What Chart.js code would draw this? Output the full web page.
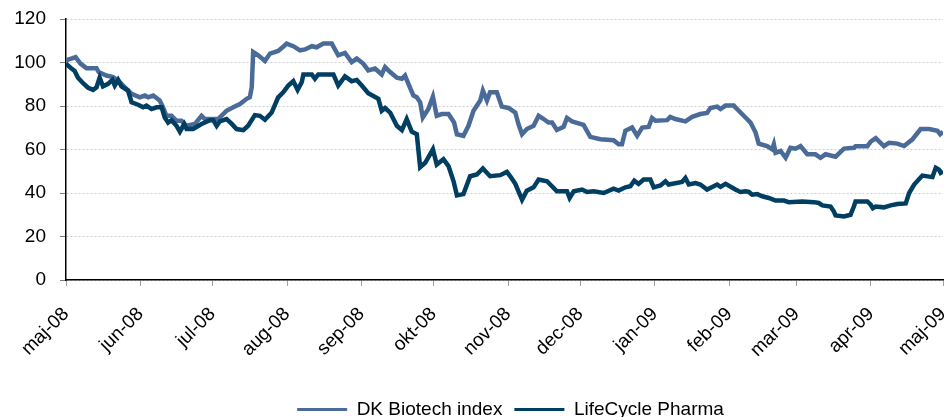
<!DOCTYPE html>
<html>
<head>
<meta charset="utf-8">
<script src="https://cdn.jsdelivr.net/npm/chart.js@4.4.1/dist/chart.umd.min.js"></script>
<style>
  body { margin: 0; background: #fff; }
  #wrap { width: 950px; height: 417px; }
</style>
</head>
<body>
<div id="wrap"><canvas id="chart" width="950" height="417"></canvas></div>
<script>
// days counted from 1 May 2008
const monthDays = [0, 31, 61, 92, 123, 153, 184, 214, 245, 276, 304, 335, 365];
const monthLabels = ['maj-08', 'jun-08', 'jul-08', 'aug-08', 'sep-08', 'okt-08', 'nov-08',
                     'dec-08', 'jan-09', 'feb-09', 'mar-09', 'apr-09', 'maj-09'];

const biotechDays = [0,4,6,8.5,12.7,13.6,16.8,19.6,21.7,24.5,27.3,30.7,32.8,34.2,36.3,39,40.4,41.8,43.9,46,
  48.1,50.2,53.6,56.4,57.8,61.3,63.3,66.8,69.6,72.4,75.2,76.5,77.3,77.9,80,82.8,84.9,88.3,90.4,91.8,
  94.6,97.4,99.5,102.3,104.3,107.1,110.6,113.3,116.1,118.9,121,123.8,125.8,128.6,131.4,132.8,134.9,137.7,139.8,141.1,
  142.5,144.6,146,147.4,148.5,150.8,152.7,154.3,156.4,159.2,161.5,162.7,165.4,167.5,169.6,172.4,173.5,175.2,176.5,179.3,
  181.4,184.2,187,188.3,189.8,191.8,194.6,196.7,198.8,200.8,202.3,204.3,207.1,208.5,210.6,215.4,218.2,222.4,227.9,230,
  231.4,232.8,235.6,237.7,239.8,242.5,243.9,245.3,250.2,251.5,253.6,257.8,260.6,264,266.8,268.2,271,272.4,274.5,277.9,
  280,282.8,284.9,287,288.3,291.8,293.9,294.6,295.3,297.4,299.5,301.5,303.6,305.7,308.5,311.9,314,316.1,320.3,323.8,
  328,328.6,333.5,334.9,337,340.4,342.5,346,348.8,352.3,355.7,359.2,362.7,363.8,365];
const biotechValues = [101,102.5,99.5,97.4,97.4,95.6,94,93.3,91.7,88.6,85.6,84,84.8,84,84.8,82.5,79.4,75.5,75.5,73.2,
  73.2,70.9,71.7,75.5,74,74,74,77.8,79.4,80.9,83.3,84,88.6,104.8,103.3,100.7,104.1,105.3,107.2,108.7,
  107.5,105.6,106,107.5,107,108.7,108.7,103.3,104.4,100.2,101.8,99.4,96.4,97.2,94.5,97.9,95.6,93,92.5,94,
  90.2,84.8,84,81.7,74.7,78.6,84.3,75.5,76.3,76.3,72.4,67,66.3,70.9,77.8,82.5,87.1,82.5,86.3,86.3,
  79.7,79.1,77,71.7,67,69.4,70.9,75.5,74,72.4,72.4,69,70.4,74.5,72.9,71.3,65.8,64.7,64.3,62.4,
  62.4,68.6,70.1,66.3,70.1,70.4,74.5,73.2,73.5,75,74,72.9,75,76.3,76.8,79.1,79.7,78.6,80.2,80.2,
  77.8,74.7,72.4,67.8,62.7,61.6,60.1,62.4,58.5,59.3,56.2,60.8,60.4,61.6,57.8,57.8,56.2,57.8,56.7,60.4,
  60.8,61.5,61.5,63.6,65.2,61.6,63.1,62.7,61.6,64.7,69.4,69.4,68.6,67,68.2];

const pharmaDays = [0,2.3,3.6,5,7.1,9.2,11.3,12.7,14,15.4,17.5,19.3,20.3,21.7,23.1,25.8,27.3,30,32.1,33.5,
  35.6,37.7,39.8,41.1,42.5,43.9,46,47.4,49.2,50.2,52.9,56.4,59.9,61.3,62.7,64,66.8,68.9,71,73.8,
  75.8,78.6,80.7,82.8,85.6,88.3,90.4,92.5,94.6,96.4,98.1,98.8,102.3,103.6,105,111.3,113.3,116.1,118.9,121,
  123.1,125.8,130,131.4,132.8,134.9,137.7,139.8,141.8,143.9,146,147.4,149.5,152.7,154.3,157.1,159.2,161.3,162.7,165.4,
  168.2,171,173.5,176.5,180.7,183.5,184.9,187,189.8,191.8,194.6,196.7,200.2,204.3,208.5,209.6,211.3,214.8,216.8,219.6,
  223.8,227.9,230,232.8,234.9,236.5,238.3,240.4,243.2,244.6,247.4,249.5,250.8,256.4,257.8,259.2,262,264,266.8,271,
  272.4,274.5,278.6,280.7,282.8,284.2,285.6,287.7,289.8,292.5,295.3,298.8,300.8,306.4,311.3,313.3,314.8,318.2,319.6,320.3,
  323.8,326.5,327.9,328.6,333.5,334.9,335.8,337,340.4,343.2,346,349.5,350.9,353,356.4,360.6,362,363.3,364,365];
const pharmaValues = [99.4,97.2,96.1,93,90.5,88.4,87.4,88.6,93,89,90.2,92,89.4,92,89,87.1,81.7,80.6,79.4,80.2,
  78.6,79.4,79.4,74.7,72.4,73.5,70.9,68.2,71.7,69.4,69.4,71.7,73.5,73.5,70.9,72.9,74,71.9,69.4,68.9,
  70.9,75.8,75.5,73.7,77,84,86.3,89.4,91.4,87.4,90.9,94.5,94.5,92.5,94.5,94.5,89.4,93.6,91.4,92,
  89.4,85.9,83.3,77.8,79.1,77,70.9,68.9,74,68.2,67,51.9,53.9,60.1,53.1,55.5,52.4,45.4,38.9,39.5,
  47.7,48.5,51.3,47.7,48.2,49.7,47.7,44.2,36.9,41.1,42.6,46.2,45.4,40.8,40.8,37.7,40.8,41.6,40.5,40.8,
  40,42,41.1,42.6,43.1,45.7,44.2,46.2,46.2,42.6,43.5,45.4,43.9,45.1,46.9,43.9,44.6,43.9,41.6,43.9,
  42.8,44.2,41.6,40.5,40.8,40.5,39.2,39.5,38.5,37.7,36.5,36.5,35.8,36.1,35.8,35.4,34.3,33.8,31.5,29.7,
  29.2,30,33.8,36.1,36.1,34.6,33,33.8,33.4,34.3,34.9,35.2,40,43.9,48,47.3,51.6,50.8,49.3,50];

const biotechColor = '#4a6b98';
const pharmaColor = '#003e62';

function toPoints(days, values) {
    return days.map((d, i) => ({ x: d, y: values[i] }));
}

const font = { family: "'Liberation Sans', Arial, sans-serif", size: 19 };

// nudge the legend to the right so it sits under the plot like the original
const legendShift = {
    id: 'legendShift',
    afterLayout(chart) {
        chart.legend.left += 37;
        chart.legend.right += 37;
    }
};

new Chart(document.querySelector('#chart').getContext('2d'), {
    type: 'line',
    data: {
        datasets: [
            {
                label: 'DK Biotech index',
                data: toPoints(biotechDays, biotechValues),
                borderColor: biotechColor,
                backgroundColor: biotechColor,
                borderWidth: 4.5,
                order: 1
            },
            {
                label: 'LifeCycle Pharma',
                data: toPoints(pharmaDays, pharmaValues),
                borderColor: pharmaColor,
                backgroundColor: pharmaColor,
                borderWidth: 4.5,
                order: 0
            }
        ]
    },
    options: {
        responsive: false,
        animation: false,
        parsing: false,
        elements: { point: { radius: 0 }, line: { tension: 0 } },
        layout: { padding: { top: 19, right: 7, left: 4, bottom: -12 } },
        scales: {
            x: {
                type: 'linear',
                min: 0,
                max: 365,
                afterBuildTicks: scale => { scale.ticks = monthDays.map(v => ({ value: v })); },
                afterFit: scale => {
                    scale.height = 108;
                    scale.paddingLeft = 0;
                    scale.paddingRight = 0;
                },
                ticks: {
                    autoSkip: false,
                    minRotation: 45,
                    maxRotation: 45,
                    padding: 17,
                    color: '#000',
                    font: font,
                    callback: (value, index) => monthLabels[index]
                },
                grid: { drawOnChartArea: false, drawTicks: true, tickLength: 6, color: '#a0a0a0' },
                border: { color: '#000', width: 1.5 }
            },
            y: {
                min: 0,
                max: 120,
                afterFit: scale => {
                    scale.width = 62;
                    scale.paddingTop = 0;
                    scale.paddingBottom = 0;
                },
                ticks: { stepSize: 20, padding: 14, color: '#000', font: font },
                grid: { color: '#cfcfcf', tickLength: 6, tickColor: '#808080' },
                border: { color: '#000', width: 1.5, dash: [2, 2] }
            }
        },
        plugins: {
            tooltip: { enabled: false },
            legend: {
                position: 'bottom',
                labels: {
                    boxWidth: 50,
                    boxHeight: 3,
                    padding: 12,
                    color: '#000',
                    font: font,
                    sort: (a, b) => a.datasetIndex - b.datasetIndex,
                    generateLabels: chart => Chart.defaults.plugins.legend.labels.generateLabels(chart)
                        .map(item => Object.assign(item, { lineWidth: 0 }))
                }
            }
        }
    },
    plugins: [legendShift]
});
</script>
</body>
</html>
